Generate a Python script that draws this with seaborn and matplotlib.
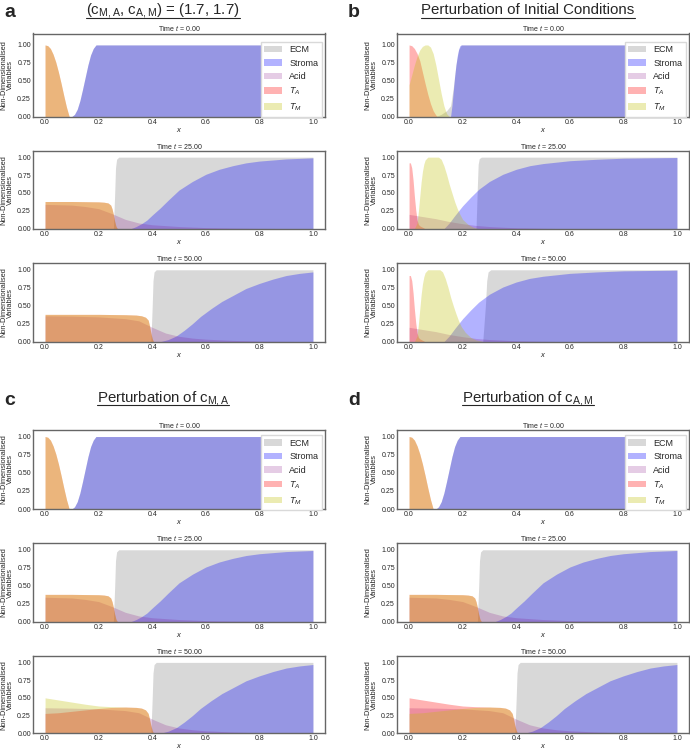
import matplotlib.pyplot as plt
import seaborn as sns

# ---- profiles, as (x, value) points ----
# t = 0, panels a, c, d
TUM_0 = [(0.0, 1.0), (0.01, 0.99), (0.02, 0.95), (0.03, 0.87), (0.04, 0.76), (0.05, 0.62),
         (0.06, 0.46), (0.07, 0.29), (0.08, 0.13), (0.09, 0.0)]
STROMA_0 = [(0.10, 0.0), (0.11, 0.03), (0.12, 0.10), (0.13, 0.22), (0.14, 0.38), (0.15, 0.55),
            (0.16, 0.72), (0.17, 0.86), (0.18, 0.95), (0.19, 1.0), (1.0, 1.0)]
ECM_0 = STROMA_0
ACID_0 = [(0.0, 0.0), (1.0, 0.0)]

# t = 0, panel b
TA_B0 = [(0.0, 1.0), (0.01, 0.99), (0.02, 0.95), (0.03, 0.88), (0.04, 0.78), (0.05, 0.62),
         (0.06, 0.46), (0.07, 0.31), (0.08, 0.18), (0.09, 0.08), (0.10, 0.02), (0.105, 0.0)]
TM_B0 = [(0.0, 0.44), (0.01, 0.58), (0.02, 0.72), (0.03, 0.84), (0.04, 0.93), (0.05, 0.98),
         (0.06, 1.0), (0.07, 1.0), (0.08, 0.97), (0.09, 0.88), (0.10, 0.72), (0.11, 0.52),
         (0.12, 0.32), (0.13, 0.15), (0.14, 0.04), (0.15, 0.0)]
ECM_B0 = [(0.10, 0.0), (0.12, 0.03), (0.14, 0.08), (0.155, 0.15), (0.165, 0.40), (0.175, 0.72),
          (0.185, 0.93), (0.195, 1.0), (1.0, 1.0)]
STROMA_B0 = [(0.155, 0.0), (0.16, 0.15), (0.165, 0.35), (0.17, 0.55), (0.175, 0.72), (0.18, 0.85),
             (0.185, 0.94), (0.19, 0.99), (0.195, 1.0), (1.0, 1.0)]

# t = 25, panels a, c, d
TUM_25 = [(0.0, 0.38), (0.1, 0.38), (0.2, 0.375), (0.22, 0.37), (0.235, 0.36), (0.245, 0.33),
          (0.25, 0.28), (0.255, 0.20), (0.26, 0.10), (0.265, 0.03), (0.27, 0.0)]
ACID_25 = [(0.0, 0.34), (0.1, 0.33), (0.15, 0.31), (0.2, 0.28), (0.25, 0.21), (0.3, 0.13),
           (0.35, 0.08), (0.4, 0.055), (0.5, 0.03), (0.6, 0.015), (0.7, 0.008), (0.8, 0.004), (1.0, 0.0)]
ECM_25 = [(0.255, 0.0), (0.26, 0.5), (0.263, 0.85), (0.267, 0.97), (0.275, 1.0), (1.0, 1.0)]
STROMA_25 = [(0.32, 0.0), (0.34, 0.03), (0.36, 0.07), (0.38, 0.12), (0.40, 0.19), (0.43, 0.29),
             (0.46, 0.40), (0.50, 0.54), (0.55, 0.66), (0.60, 0.76), (0.65, 0.83), (0.70, 0.88),
             (0.75, 0.92), (0.80, 0.945), (0.90, 0.975), (1.0, 0.99)]

# t = 50, panel a (ECM, stroma and acid shared with c, d)
TUM_50 = [(0.0, 0.38), (0.2, 0.38), (0.3, 0.375), (0.34, 0.37), (0.36, 0.36), (0.375, 0.34),
          (0.385, 0.30), (0.39, 0.22), (0.395, 0.12), (0.40, 0.04), (0.405, 0.0)]
ACID_50 = [(0.0, 0.36), (0.1, 0.355), (0.2, 0.345), (0.3, 0.32), (0.35, 0.29), (0.40, 0.20),
           (0.45, 0.12), (0.50, 0.075), (0.55, 0.05), (0.60, 0.035), (0.70, 0.018), (0.80, 0.008), (1.0, 0.0)]
ECM_50 = [(0.395, 0.0), (0.40, 0.5), (0.403, 0.85), (0.407, 0.97), (0.415, 1.0), (1.0, 1.0)]
STROMA_50 = [(0.43, 0.0), (0.46, 0.03), (0.49, 0.08), (0.52, 0.16), (0.55, 0.25), (0.58, 0.35),
             (0.62, 0.46), (0.66, 0.56), (0.70, 0.64), (0.75, 0.74), (0.80, 0.81), (0.85, 0.87),
             (0.90, 0.92), (0.95, 0.95), (1.0, 0.97)]

# t = 25 / 50, panel b
TA_B25 = [(0.0, 0.92), (0.005, 0.92), (0.01, 0.85), (0.015, 0.68), (0.02, 0.45), (0.025, 0.26),
          (0.03, 0.12), (0.035, 0.06), (0.04, 0.04), (0.05, 0.02), (0.06, 0.0)]
TM_B25 = [(0.02, 0.0), (0.03, 0.08), (0.035, 0.25), (0.04, 0.45), (0.045, 0.65), (0.05, 0.80),
          (0.055, 0.90), (0.06, 0.96), (0.07, 1.0), (0.11, 1.0), (0.12, 0.97), (0.13, 0.88),
          (0.14, 0.76), (0.15, 0.62), (0.16, 0.50), (0.17, 0.38), (0.18, 0.28), (0.19, 0.20),
          (0.20, 0.13), (0.22, 0.06), (0.24, 0.02), (0.26, 0.0)]
ACID_B25 = [(0.0, 0.20), (0.05, 0.17), (0.10, 0.14), (0.15, 0.10), (0.20, 0.07), (0.25, 0.045),
            (0.30, 0.03), (0.40, 0.012), (0.50, 0.005), (0.60, 0.0)]
ECM_B25 = [(0.25, 0.0), (0.255, 0.6), (0.258, 0.9), (0.262, 0.98), (0.27, 1.0), (1.0, 1.0)]
STROMA_B25 = [(0.13, 0.0), (0.15, 0.08), (0.17, 0.18), (0.20, 0.32), (0.23, 0.44), (0.26, 0.55),
              (0.30, 0.66), (0.35, 0.76), (0.40, 0.83), (0.45, 0.88), (0.50, 0.91), (0.60, 0.95),
              (0.70, 0.97), (0.80, 0.985), (0.90, 0.99), (1.0, 0.995)]
TM_B50 = [(0.02, 0.0), (0.03, 0.08), (0.035, 0.25), (0.04, 0.45), (0.045, 0.65), (0.05, 0.80),
          (0.055, 0.90), (0.06, 0.96), (0.07, 1.0), (0.115, 1.0), (0.125, 0.97), (0.135, 0.88),
          (0.145, 0.76), (0.155, 0.62), (0.165, 0.50), (0.175, 0.39), (0.185, 0.29), (0.195, 0.21),
          (0.21, 0.13), (0.23, 0.06), (0.25, 0.025), (0.28, 0.0)]
ECM_B50 = [(0.275, 0.0), (0.285, 0.5), (0.29, 0.85), (0.295, 0.97), (0.305, 1.0), (1.0, 1.0)]

# t = 50, panels c and d (perturbed tumour subpopulations)
HIGH_50 = [(0.0, 0.5), (0.05, 0.47), (0.1, 0.44), (0.15, 0.41), (0.2, 0.385), (0.25, 0.375),
           (0.3, 0.37), (0.34, 0.365), (0.36, 0.355), (0.375, 0.33), (0.385, 0.28), (0.39, 0.2),
           (0.395, 0.11), (0.4, 0.04), (0.405, 0.0)]
LOW_50 = [(0.0, 0.28), (0.05, 0.29), (0.1, 0.31), (0.15, 0.33), (0.2, 0.35), (0.25, 0.365),
          (0.3, 0.37), (0.34, 0.365), (0.36, 0.355), (0.375, 0.33), (0.385, 0.28), (0.39, 0.2),
          (0.395, 0.11), (0.4, 0.04), (0.405, 0.0)]

TIMES = [0.0, 25.0, 50.0]
LABELS = ['ECM', 'Stroma', 'Acid', '$T_A$', '$T_M$']
COLORS = ['#808080', '#0000ff', '#800080', '#ff0000', '#bfbf00']
ALPHAS = [0.3, 0.3, 0.2, 0.3, 0.3]

PANEL_A = [[ECM_0, STROMA_0, ACID_0, TUM_0, TUM_0],
           [ECM_25, STROMA_25, ACID_25, TUM_25, TUM_25],
           [ECM_50, STROMA_50, ACID_50, TUM_50, TUM_50]]
PANEL_B = [[ECM_B0, STROMA_B0, ACID_0, TA_B0, TM_B0],
           [ECM_B25, STROMA_B25, ACID_B25, TA_B25, TM_B25],
           [ECM_B50, STROMA_B25, ACID_B25, TA_B25, TM_B50]]
PANEL_C = [[ECM_0, STROMA_0, ACID_0, TUM_0, TUM_0],
           [ECM_25, STROMA_25, ACID_25, TUM_25, TUM_25],
           [ECM_50, STROMA_50, ACID_50, LOW_50, HIGH_50]]
PANEL_D = [[ECM_0, STROMA_0, ACID_0, TUM_0, TUM_0],
           [ECM_25, STROMA_25, ACID_25, TUM_25, TUM_25],
           [ECM_50, STROMA_50, ACID_50, HIGH_50, LOW_50]]

sns.set_theme(style='white')
plt.rcParams['font.family'] = ['Liberation Sans', 'DejaVu Sans']
plt.rcParams['mathtext.fontset'] = 'custom'
plt.rcParams['mathtext.rm'] = 'Liberation Sans'
plt.rcParams['mathtext.it'] = 'Liberation Sans:italic'

W, H = 690, 751
fig = plt.figure(figsize=(W / 100, H / 100), dpi=100)

top_rows = [(33.5, 116.5, 1.16), (150.7, 228.7, 1.09), (263.3, 341.7, 1.09)]
bot_rows = [(430, 509, 1.09), (543.3, 621.7, 1.09), (656, 733.3, 1.09)]
left_col = (33, 325)
right_col = (397, 689)

panels = [
    ('a', r'(c$_\mathregular{M,A}$, c$_\mathregular{A,M}$) = (1.7, 1.7)', PANEL_A, left_col, top_rows, 163),
    ('b', 'Perturbation of Initial Conditions', PANEL_B, right_col, top_rows, 528),
    ('c', r'Perturbation of c$_\mathregular{M,A}$', PANEL_C, left_col, bot_rows, 163),
    ('d', r'Perturbation of c$_\mathregular{A,M}$', PANEL_D, right_col, bot_rows, 528),
]

for letter, title, data, (x0, x1), rows, tx in panels:
    for i, (curves, t, (y0, y1, ytop)) in enumerate(zip(data, TIMES, rows)):
        ax = fig.add_axes([x0 / W, 1 - y1 / H, (x1 - x0) / W, (y1 - y0) / H])
        for pts, c, a, lab in zip(curves, COLORS, ALPHAS, LABELS):
            xs, ys = zip(*pts)
            ax.fill_between(xs, ys, color=c, alpha=a, lw=0, label=lab)
        ax.set_xlim(-0.045, 1.045)
        ax.set_ylim(0, ytop)
        ax.set_yticks([0, 0.25, 0.5, 0.75, 1.0])
        ax.set_yticklabels(['%.2f' % v for v in [0, 0.25, 0.5, 0.75, 1.0]])
        ax.set_xticks([0, 0.2, 0.4, 0.6, 0.8, 1.0])
        ax.set_xticklabels(['%.1f' % v for v in [0, 0.2, 0.4, 0.6, 0.8, 1.0]])
        ax.tick_params(labelsize=5, pad=1.5, length=0)
        ax.set_title('Time $t$ = %.2f' % t, fontsize=5, pad=1.5)
        ax.set_ylabel('Non-Dimensionalised\nVariables', fontsize=5.3, labelpad=2, linespacing=0.95)
        ax.set_xlabel('$x$', fontsize=5.5, labelpad=0)
        for s in ax.spines.values():
            s.set_color('0.4')
            s.set_linewidth(1.0)
        if i == 0:
            gap = 8 if rows is top_rows else 5
            ax.legend(loc='upper right', fontsize=6.5, frameon=True, borderaxespad=0,
                      bbox_to_anchor=(1 - 3 / (x1 - x0), 1 - gap / (y1 - y0)),
                      framealpha=1, edgecolor='0.85', fancybox=False)
    base = 14.5 if rows is top_rows else 402.3
    fig.text(4 if letter in 'ac' else 348, H - base - 2.5, letter, fontsize=14, fontweight='bold',
             va='baseline', ha='left', transform=None)
    ttl = fig.text(tx, H - base, title, fontsize=10.8, va='baseline', ha='center',
                   color='0.15', transform=None)
    # underline the panel title
    fig.canvas.draw()
    bb = ttl.get_window_extent(fig.canvas.get_renderer())
    uy = (H - base - 3) / H
    fig.add_artist(plt.Line2D([bb.x0 / W, bb.x1 / W], [uy, uy], color='0.15', lw=0.8))

fig.savefig('out.png', dpi=100)
